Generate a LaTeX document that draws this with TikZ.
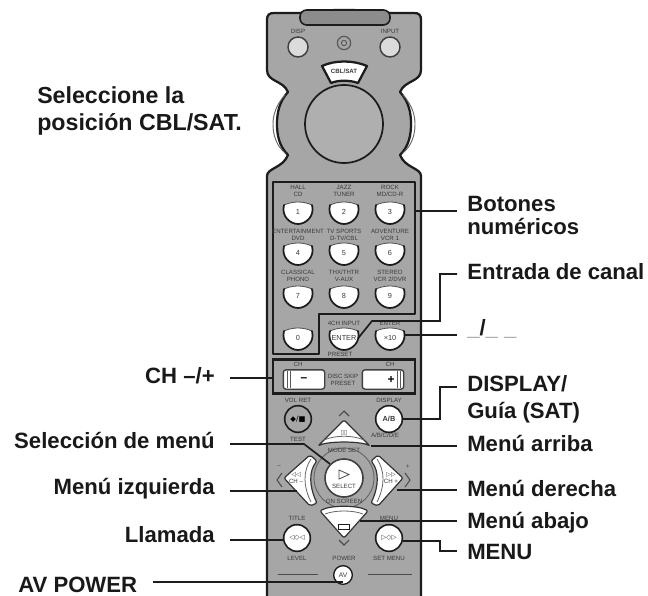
\documentclass[tikz,border=0pt]{standalone}
\usepackage{fontspec}
\setmainfont{Liberation Sans}
\newfontfamily\symfont{DejaVu Sans}
\definecolor{bodygray}{HTML}{A6A6A6}
\definecolor{edgeblack}{HTML}{1C1C1C}
\definecolor{printgray}{HTML}{3A3A3A}
\begin{document}
\begin{tikzpicture}[x=0.75pt,y=-0.75pt,%
% callout texts and their lines:
callout/.style = {font=\bfseries\fontsize{16.6}{17}\selectfont, inner sep=0, text=black!90},
bigcallout/.style = {callout, font=\bfseries\fontsize{17.4}{18}\selectfont},
leader/.style = {draw=edgeblack, line width=1.25pt},
% small print on the remote:
print/.style = {font=\fontsize{4.6}{5}\selectfont, inner sep=0, text=printgray, align=center},
keytext/.style = {circle, minimum size=21pt, inner sep=0, font=\fontsize{5.5}{6}\selectfont, text=printgray, align=center},
roundkey/.style = {circle, draw=edgeblack, fill=white, line width=1.2pt, inner sep=0, align=center, text=printgray, font=\fontsize{5}{6}\selectfont},
outline/.style = {draw=edgeblack, line width=1.7pt, line join=round},
pad/.style = {draw=black!80, fill=white, line width=0.9pt, line join=round, rounded corners=1.5pt},
numkey/.pic = {
  \path[fill=white] (-14,-7) .. controls (-5,-11) and (5,-11) .. (14,-7) .. controls (17,4) and (8,12) .. (0,12) .. controls (-8,12) and (-17,4) .. (-14,-7) -- cycle;
  \draw[draw=black!70, line width=0.6pt] (-14,-7) .. controls (-5,-11) and (5,-11) .. (14,-7);
  \draw[draw=edgeblack, line width=1.3pt, line cap=round] (14,-7) .. controls (17,4) and (8,12) .. (0,12) .. controls (-8,12) and (-17,4) .. (-14,-7);
}]
\useasboundingbox (0,0) rectangle (648,595);

% body
\fill[bodygray] (267,600) -- (267,176) .. controls (267,168) and (283,168) .. (288,155)
  .. controls (279,146) and (277,135) .. (277,124) .. controls (277,113) and (279,102) .. (288,92)
  .. controls (283,80) and (267,82) .. (267,70) -- (267,20) .. controls (267,15) and (269,13) .. (274,13) -- (300,13)
  .. controls (320,9) and (368,9) .. (390,13) -- (414,13) .. controls (419,13) and (421,15) .. (421,20) -- (421,70)
  .. controls (421,82) and (405,80) .. (400,92) .. controls (409,102) and (411,113) .. (411,124) .. controls (411,135) and (409,146) .. (400,155)
  .. controls (405,168) and (421,168) .. (421,176) -- (421,600) -- cycle;
\draw[outline] (267,600) -- (267,176) .. controls (267,168) and (283,168) .. (288,155)
  .. controls (279,146) and (277,135) .. (277,124) .. controls (277,113) and (279,102) .. (288,92)
  .. controls (283,80) and (267,82) .. (267,70) -- (267,20) .. controls (267,15) and (269,13) .. (274,13) -- (300,13)
  .. controls (320,9) and (368,9) .. (390,13) -- (414,13) .. controls (419,13) and (421,15) .. (421,20) -- (421,70)
  .. controls (421,82) and (405,80) .. (400,92) .. controls (409,102) and (411,113) .. (411,124) .. controls (411,135) and (409,146) .. (400,155)
  .. controls (405,168) and (421,168) .. (421,176) -- (421,600);
\draw[draw=black!60, line width=0.7pt] (285,95) .. controls (276,105) and (273,115) .. (273,124) .. controls (273,135) and (276,145) .. (285,153);
\draw[draw=black!60, line width=0.7pt] (403,95) .. controls (412,105) and (415,115) .. (415,124) .. controls (415,135) and (412,145) .. (403,153);
\draw[draw=edgeblack, line width=1.2pt, fill=black!45, rounded corners=5pt] (300,10) -- (390,10) -- (390,25) -- (300,25) -- cycle;

% top of the remote
\node[print] (tDISP) at (298,31) {DISP};
\node[print] (tINPUT) at (390,31) {INPUT};
\node[circle, draw=black!75, fill=black!14, line width=1.1pt, minimum size=15pt, inner sep=0] (bDISP) at (298,47) {};
\node[circle, draw=black!75, fill=black!14, line width=1.1pt, minimum size=15pt, inner sep=0] (bINPUT) at (390,47) {};
\node[circle, draw=black!65, line width=0.9pt, minimum size=10pt, inner sep=0] (bIR) at (344,43) {};
\node[circle, draw=black!65, line width=0.7pt, minimum size=4pt, inner sep=0] (bIRin) at (344,43) {};
\draw[outline, fill=white] (322,66) .. controls (335,60) and (353,60) .. (367,66) -- (358,83) .. controls (350,80) and (338,80) .. (331,83) -- cycle;
\node[print, font=\bfseries\fontsize{4.6}{5}\selectfont] (tCBL) at (344,71) {CBL/SAT};
\node[circle, draw=edgeblack, fill=bodygray!90!white, line width=1.3pt, minimum size=58.5pt, inner sep=0] (dial) at (344,124) {};

% number keys
\draw[outline] (273,182) -- (415,182) -- (415,314) -- (319,314) -- (319,354) -- (273,354) -- cycle;
\node[print] (t1) at (298,191) {HALL\\[0.5pt]CD};
\node[print] (t2) at (344,191) {JAZZ\\[0.5pt]TUNER};
\node[print] (t3) at (390,191) {ROCK\\[0.5pt]MD/CD-R};
\node[print] (t4) at (298,235) {ENTERTAINMENT\\[0.5pt]DVD};
\node[print] (t5) at (344,235) {TV SPORTS\\[0.5pt]D-TV/CBL};
\node[print] (t6) at (390,235) {ADVENTURE\\[0.5pt]VCR 1};
\node[print] (t7) at (298,276) {CLASSICAL\\[0.5pt]PHONO};
\node[print] (t8) at (344,276) {THX/THTR\\[0.5pt]V-AUX};
\node[print] (t9) at (390,276) {STEREO\\[0.5pt]VCR 2/DVR};
\node[print] (tCHIN) at (344,323) {4CH INPUT};
\node[print] (tENT) at (390,323) {ENTER};
\node[print] (tPRE) at (340,354) {PRESET};
\pic at (298,212) {numkey}; \pic at (344,212) {numkey}; \pic at (390,212) {numkey};
\pic at (298,253) {numkey}; \pic at (344,253) {numkey}; \pic at (390,253) {numkey};
\pic at (298,296) {numkey}; \pic at (344,296) {numkey}; \pic at (390,296) {numkey};
\pic at (298,338) {numkey}; \pic at (344,338) {numkey}; \pic at (390,338) {numkey};
\node[keytext] (k1) at (298,212) {1};
\node[keytext] (k2) at (344,212) {2};
\node[keytext] (k3) at (390,212) {3};
\node[keytext] (k4) at (298,253) {4};
\node[keytext] (k5) at (344,253) {5};
\node[keytext] (k6) at (390,253) {6};
\node[keytext] (k7) at (298,296) {7};
\node[keytext] (k8) at (344,296) {8};
\node[keytext] (k9) at (390,296) {9};
\node[keytext] (k0) at (298,338) {0};
\node[keytext] (kENTER) at (344,338) {ENTER};
\node[keytext] (kTEN) at (390,338) {×10};

% channel keys
\node[draw=edgeblack, line width=1.7pt, minimum width=106.5pt, minimum height=25.5pt, inner sep=0] (chpanel) at (344,376.5) {};
\node[print] (tCHa) at (298,364) {CH};
\node[print] (tCHb) at (390,364) {CH};
\node[print] (tDSC) at (343,380) {DISC SKIP\\[0.5pt]PRESET};
\node[draw=black!75, fill=white, line width=1pt, rounded corners=2pt, minimum width=31pt, minimum height=14.5pt, inner sep=0, font=\bfseries\fontsize{9}{9}\selectfont] (chminus) at (304,379.5) {–};
\node[draw=black!75, fill=white, line width=1pt, rounded corners=2pt, minimum width=31pt, minimum height=14.5pt, inner sep=0, font=\bfseries\fontsize{9}{9}\selectfont] (chplus) at (383,379.5) {\hspace*{12pt}+};
\draw[draw=black!65, line width=0.5pt] (287,371) -- (287,388) (290,371) -- (290,388) (397,371) -- (397,388) (400,371) -- (400,388);

% upper round keys
\node[print] (tVOL) at (298,400) {VOL RET};
\node[print] (tDISPLAY) at (389,400) {DISPLAY};
\node[print] (tTEST) at (298,439) {TEST};
\node[print] (tABC) at (385,435) {A/B/C/D/E};
\node[roundkey, fill=bodygray, minimum size=20pt, font=\symfont\fontsize{5.5}{6}\selectfont, text=black] (kVOL) at (298,419) {◆/■};
\node[roundkey, minimum size=20pt, font=\bfseries\fontsize{5.5}{6}\selectfont] (kDISPLAY) at (389,419) {A/B};

% cursor pad
\node[circle, draw=black!60, line width=0.7pt, minimum size=45pt, inner sep=0] (ring) at (344,478) {};
\node[print] (tMODE) at (344,450) {MODE SET};
\node[print] (tSCREEN) at (344,501) {ON SCREEN};
\draw[pad] (344,420) -- (370,446) .. controls (360,441) and (328,441) .. (318,446) -- cycle;
\draw[draw=black!60, line width=0.6pt] (324,440) .. controls (335,435) and (353,435) .. (364,440);
\draw[pad] (344,538) -- (368,511) .. controls (358,505) and (330,505) .. (320,511) -- cycle;
\draw[draw=black!60, line width=0.6pt] (325,514) .. controls (335,510) and (353,510) .. (363,514);
\draw[pad] (284,478) -- (310,455) -- (317,461) .. controls (309,471) and (309,486) .. (317,503) -- (310,506) -- cycle;
\draw[draw=black!60, line width=0.6pt] (311,459) .. controls (303,471) and (303,486) .. (311,502);
\draw[pad] (403,478) -- (378,455) -- (371,461) .. controls (379,471) and (379,486) .. (371,503) -- (378,506) -- cycle;
\draw[draw=black!60, line width=0.6pt] (377,459) .. controls (385,471) and (385,486) .. (377,502);
\node[roundkey, draw=black!75, minimum size=28.5pt] (kSELECT) at (344,478) {};
\draw[draw=black!70, line width=0.6pt] (339,470) -- (339,479) -- (349,474.5) -- cycle;
\node[print] (tSELECT) at (344,486) {SELECT};
\node[print] (tUP) at (344,433) {\symfont ▯▯};
\node[draw=edgeblack, fill=white, line width=0.9pt, minimum width=8pt, minimum height=4pt, inner sep=0] (iDOWN) at (344,527) {};
\node[print] (tLEFT) at (296,478) {\symfont ◁◁\\[0.5pt]CH –};
\node[print] (tRIGHT) at (391,478) {\symfont ▷▷\\[0.5pt]CH +};
\draw[draw=black!70, line width=0.8pt] (339,416) -- (344,411) -- (349,416) (339,540) -- (344,545) -- (349,540);
\draw[draw=black!70, line width=0.8pt] (282,473) -- (277,480) -- (282,487) (405,473) -- (410,480) -- (405,487);
\node[print] (tMINUS) at (279,467) {–};
\node[print] (tPLUS) at (408,467) {+};

% lower round keys
\node[print] (tTITLE) at (297,518) {TITLE};
\node[print] (tMENU) at (389,518) {MENU};
\node[print] (tLEVEL) at (297,558) {LEVEL};
\node[print] (tSET) at (389,558) {SET MENU};
\node[print] (tPOWER) at (344,558) {POWER};
\node[roundkey, minimum size=20pt, font=\symfont\fontsize{5}{6}\selectfont] (kLEVEL) at (297,538) {◁◇◁};
\node[roundkey, minimum size=20pt, font=\symfont\fontsize{5}{6}\selectfont] (kMENU) at (389,538) {▷◇▷};
\node[roundkey, minimum size=14pt, line width=1pt] (kAV) at (343,575) {AV};
\draw[draw=black!70, line width=0.7pt] (278,574) -- (318,574) (368,574) -- (412,574);

% texts
\node[bigcallout, anchor=base west] (lSel) at (37,104) {Seleccione la};
\node[bigcallout, anchor=base west] (lPos) at (37,131) {posición CBL/SAT.};
\node[callout, anchor=base east] (lCH) at (215,383) {CH –/+};
\node[callout, anchor=base east] (lMenuSel) at (215,448) {Selección de menú};
\node[callout, anchor=base east] (lIzq) at (215,494) {Menú izquierda};
\node[callout, anchor=base east] (lLlam) at (215,542) {Llamada};
\node[callout, anchor=base west] (lAV) at (18,592) {AV POWER};
\node[callout, anchor=base west] (lBot) at (467,211) {Botones};
\node[callout, anchor=base west] (lNum) at (467,234) {numéricos};
\node[callout, anchor=base west] (lEnt) at (467,279) {Entrada de canal};
\node[callout, anchor=base west] (lSlash) at (467,335) {\textcolor{black!45}{\_}/\textcolor{black!45}{\_ \_}};
\node[callout, anchor=base west] (lDisp) at (467,391) {DISPLAY/};
\node[callout, anchor=base west] (lGuia) at (467,418) {Guía (SAT)};
\node[callout, anchor=base west] (lArr) at (467,451) {Menú arriba};
\node[callout, anchor=base west] (lDer) at (467,496) {Menú derecha};
\node[callout, anchor=base west] (lAba) at (467,528) {Menú abajo};
\node[callout, anchor=base west] (lMenu) at (467,559) {MENU};

% leader ends
\coordinate (cCH) at (230,378);
\coordinate (cMenuSel) at (230,444);
\coordinate (cMenuBend) at (304,444);
\coordinate (cIzq) at (230,491);
\coordinate (cIzqEnd) at (297,491);
\coordinate (cLlam) at (230,540);
\coordinate (cAV) at (153,582);
\coordinate (cBot) at (457,211);
\coordinate (cEnt) at (457,274);
\coordinate (cEntV) at (440,321);
\coordinate (cEntB) at (372,321);
\coordinate (cSlash) at (457,335);
\coordinate (cDisp) at (457,387);
\coordinate (cDispV) at (440,419);
\coordinate (cArr) at (457,446);
\coordinate (cArrEnd) at (371,446);
\coordinate (cDer) at (457,490);
\coordinate (cDerEnd) at (397,490);
\coordinate (cAba) at (457,521);
\coordinate (cAbaEnd) at (360,521);
\coordinate (cMenu) at (457,551);
\coordinate (cMenuV) at (440,541);

% leaders
\draw[leader] (cCH) -- (cCH -| chpanel.west);
\draw[leader] (cMenuSel) -- (cMenuBend) -- (kSELECT.north west);
\draw[leader] (cIzq) -- (cIzqEnd);
\draw[leader] (cLlam) -- (cLlam -| kLEVEL.west);
\draw[leader] (cAV) -- (cAV -| kAV.south);
\draw[leader] (cBot) -- (cBot -| chpanel.east);
\draw[leader] (cEnt) -| (cEntV) -- (cEntB) -- (kENTER.east);
\draw[leader] (cSlash) -- (cSlash -| kTEN.east);
\draw[leader] (cDisp) -| (cDispV) -- (kDISPLAY.east);
\draw[leader] (cArr) -- (cArrEnd);
\draw[leader] (cDer) -- (cDerEnd);
\draw[leader] (cAba) -- (cAbaEnd);
\draw[leader] (cMenu) -| (cMenuV) -- (cMenuV -| kMENU.east);
\end{tikzpicture}
\end{document}
